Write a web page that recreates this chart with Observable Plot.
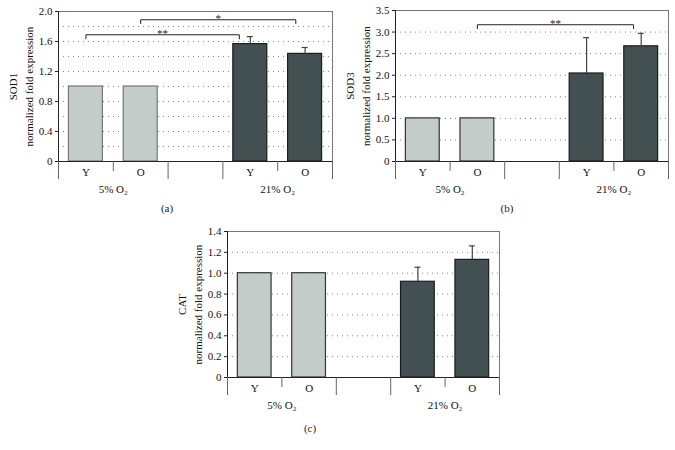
<!DOCTYPE html>
<html>
<head>
<meta charset="utf-8">
<script src="https://cdn.jsdelivr.net/npm/d3@7"></script>
<script src="https://cdn.jsdelivr.net/npm/@observablehq/plot@0.6"></script>
<style>
  html, body { margin: 0; padding: 0; background: #fff; }
  #wrap { position: relative; width: 675px; height: 450px; background: #fff; font-family: "Liberation Serif", serif; }
  .panel { position: absolute; overflow: visible; }
  .cap { position: absolute; font-size: 11px; color: #222; transform: translateX(-50%); }
</style>
</head>
<body>
<div id="wrap"></div>
<script>
// ---- data ----
const categories = ["Y", "O", "", "Y", "O"];
const conditions = ["5%", "5%", null, "21%", "21%"];
const groupLabels = ["5% O₂", "21% O₂"];
const groupMembers = [[0, 1], [3, 4]];

const sod1 = [1.0, 1.0, null, 1.565, 1.435];
const sod1Err = [0, 0, null, 0.10, 0.085];
const sod3 = [1.0, 1.0, null, 2.04, 2.67];
const sod3Err = [0, 0, null, 0.83, 0.30];
const catV = [1.0, 1.0, null, 0.918, 1.128];
const catErr = [0, 0, null, 0.139, 0.134];

const sod1Ticks = [0, 0.4, 0.8, 1.2, 1.6, 2.0];
const sod1Grid = [0.2, 0.4, 0.6, 0.8, 1.0, 1.2, 1.4, 1.6, 1.8];
const sod3Ticks = [0, 0.5, 1.0, 1.5, 2.0, 2.5, 3.0, 3.5];
const sod3Grid = [0.5, 1.0, 1.5, 2.0, 2.5, 3.0];
const catTicks = [0, 0.2, 0.4, 0.6, 0.8, 1.0, 1.2, 1.4];
const catGrid = [0.2, 0.4, 0.6, 0.8, 1.0, 1.2];

// significance brackets: from/to in category index units, level = bracket height
const sod1Brackets = [
  {from: 0, to: 2.8, level: 1.69, drop: 0.055, label: "**"},
  {from: 1, to: 3.83, level: 1.89, drop: 0.05, label: "*"}
];
const sod3Brackets = [
  {from: 1, to: 3.86, level: 3.17, drop: 0.09, label: "**"}
];
const catBrackets = [];

// ---- drawing ----
const LIGHT = "#c4ccc9", DARK = "#435051";

function panel({values, errors, ticks, grid, domain, brackets, ylabel, lightStroke,
                left, top, width, height, margin, caption, capX, capY}) {
  const rows = categories.map((c, i) => ({i, c, cond: conditions[i], v: values[i], e: errors[i]}))
    .filter(d => d.v != null);
  const allRows = categories.map((c, i) => ({i, c}));
  const bounds = d3.range(categories.length + 1).map(k => k - 0.5);
  const shortSeps = bounds.filter(b => groupMembers.some(g => b > g[0] && b < g[g.length - 1]));
  const longSeps = bounds.filter(b => !shortSeps.includes(b));
  const groups = groupLabels.map((g, k) => ({g, x: d3.mean(groupMembers[k])}));
  const bracketPts = brackets.flatMap((b, k) => [
    {x: b.from, y: b.level - b.drop, k}, {x: b.from, y: b.level, k},
    {x: b.to, y: b.level, k}, {x: b.to, y: b.level - b.drop, k}
  ]);
  const errRows = rows.filter(d => d.e > 0);

  const p = Plot.plot({
    width, height,
    marginLeft: margin[3], marginRight: margin[1], marginTop: margin[0], marginBottom: margin[2],
    style: {fontFamily: "Liberation Serif, serif", fontSize: "11px", color: "#111", background: "transparent", overflow: "visible"},
    x: {type: "linear", domain: [-0.5, categories.length - 0.5], axis: null},
    y: {domain, axis: null},
    marks: [
      Plot.ruleY(grid, {stroke: "#888", strokeDasharray: "1,4", strokeWidth: 1}),
      Plot.frame({stroke: "#777", strokeWidth: 1}),
      Plot.rectY(rows, {
        x1: d => d.i - 0.31, x2: d => d.i + 0.31, y1: 0, y2: "v",
        fill: d => d.cond === "5%" ? LIGHT : DARK,
        stroke: d => d.cond === "5%" ? lightStroke : "#1c1c1c", strokeWidth: 1.2
      }),
      Plot.ruleX(errRows, {x: "i", y1: "v", y2: d => d.v + d.e, stroke: "#444", strokeWidth: 1.2}),
      Plot.ruleY(errRows, {x1: d => d.i - 0.055, x2: d => d.i + 0.055, y: d => d.v + d.e, stroke: "#444", strokeWidth: 1.2}),
      Plot.line(bracketPts, {x: "x", y: "y", z: "k", stroke: "#222", strokeWidth: 1}),
      Plot.text(brackets, {x: d => (d.from + d.to) / 2, y: "level", text: "label", dy: -1, fontSize: 11, fill: "#222"}),
      Plot.ruleX([-0.5], {stroke: "#222", strokeWidth: 1}),
      Plot.ruleY([0], {stroke: "#222", strokeWidth: 1.2}),
      Plot.ruleX(longSeps, {x: d => d, y1: 0, y2: 0, insetBottom: -18, stroke: "#666"}),
      Plot.ruleX(shortSeps, {x: d => d, y1: 0, y2: 0, insetBottom: -10, stroke: "#666"}),
      Plot.text(allRows.filter(d => d.c), {x: "i", y: 0, text: "c", dy: 11}),
      Plot.text(groups, {x: "x", y: 0, text: "g", dy: 28}),
      Plot.axisY(ticks, {tickSize: 3, tickPadding: 3, stroke: "#222",
        tickFormat: d => d === 0 ? "0" : d.toFixed(1), label: null}),
      Plot.text([ylabel], {frameAnchor: "left", textAnchor: "middle", lineAnchor: "middle",
        rotate: -90, dx: -39, lineHeight: 1.45, text: d => d})
    ]
  });
  p.classList.add("panel");
  p.style.left = left + "px";
  p.style.top = top + "px";
  const wrap = document.getElementById("wrap");
  wrap.appendChild(p);
  const cap = document.createElement("div");
  cap.className = "cap";
  cap.textContent = caption;
  cap.style.left = capX + "px";
  cap.style.top = capY + "px";
  wrap.appendChild(cap);
}

panel({values: sod1, errors: sod1Err, ticks: sod1Ticks, grid: sod1Grid, domain: [0, 2],
  brackets: sod1Brackets, ylabel: "SOD1\nnormalized fold expression", lightStroke: "#777",
  left: 0, top: 0, width: 340, height: 225, margin: [11, 8, 64, 58],
  caption: "(a)", capX: 167, capY: 202});

panel({values: sod3, errors: sod3Err, ticks: sod3Ticks, grid: sod3Grid, domain: [0, 3.5],
  brackets: sod3Brackets, ylabel: "SOD3\nnormalized fold expression", lightStroke: "#333",
  left: 340, top: 0, width: 335, height: 225, margin: [10, 7, 64, 55],
  caption: "(b)", capX: 507, capY: 202});

panel({values: catV, errors: catErr, ticks: catTicks, grid: catGrid, domain: [0, 1.4],
  brackets: catBrackets, ylabel: "CAT\nnormalized fold expression", lightStroke: "#333",
  left: 150, top: 220, width: 380, height: 230, margin: [11, 31, 73, 77],
  caption: "(c)", capX: 310, capY: 422});
</script>
</body>
</html>
